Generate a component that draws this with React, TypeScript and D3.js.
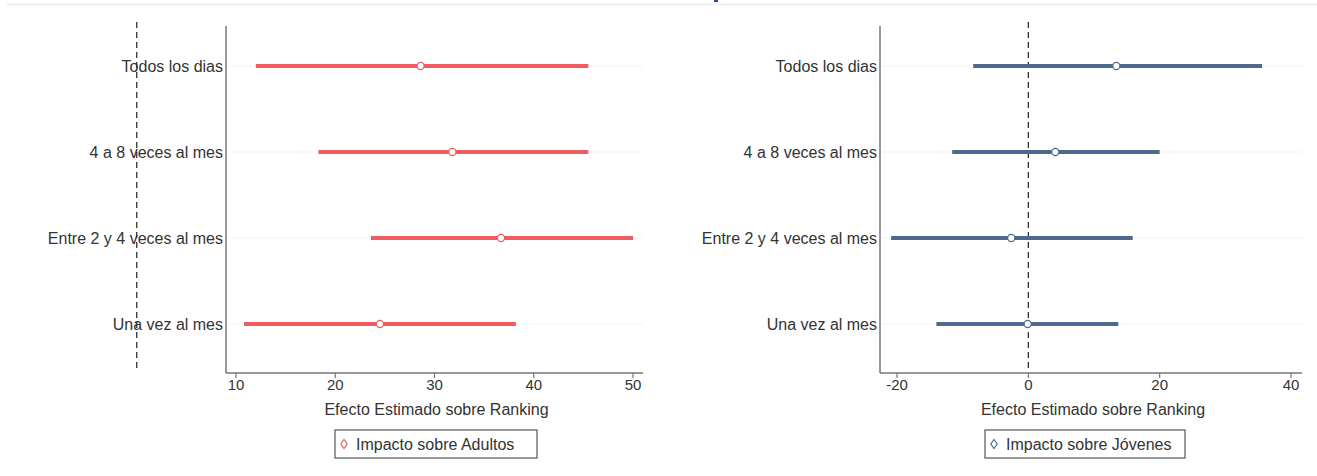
import React from "react";
import * as d3 from "d3";

const categories = ["Todos los dias", "4 a 8 veces al mes", "Entre 2 y 4 veces al mes", "Una vez al mes"];
const adultosPoint = [28.6, 31.8, 36.7, 24.5];
const adultosLow = [12.0, 18.3, 23.6, 10.8];
const adultosHigh = [45.5, 45.5, 50.0, 38.2];
const jovenesPoint = [13.4, 4.1, -2.6, -0.1];
const jovenesLow = [-8.4, -11.6, -20.9, -14.0];
const jovenesHigh = [35.6, 20.0, 15.9, 13.7];
const adultosTicks = [10, 20, 30, 40, 50];
const jovenesTicks = [-20, 0, 20, 40];
const xTitle = "Efecto Estimado sobre Ranking";

const FONT = "'Liberation Sans', Arial, sans-serif";

type PanelProps = {
  axisLeft: number;
  axisRight: number;
  domain: [number, number];
  range: [number, number];
  ticks: number[];
  point: number[];
  low: number[];
  high: number[];
  color: string;
  legendLabel: string;
  legendX: number;
  legendW: number;
};

function Panel(p: PanelProps) {
  const x = d3.scaleLinear().domain(p.domain).range(p.range);
  const y = d3.scalePoint<string>().domain(categories).range([66, 324]);
  const top = 26;
  const bottom = 373;
  const diamond = "M0,-4.5L3.2,0L0,4.5L-3.2,0Z";
  const circle = d3.symbol().type(d3.symbolCircle).size(40)() as string;
  const zx = x(0);
  return (
    <g>
      {categories.map((c) => (
        <line key={"g" + c} x1={p.axisLeft} x2={p.axisRight} y1={y(c)} y2={y(c)} stroke="#f3f3f3" strokeWidth={1} />
      ))}
      <line x1={zx} x2={zx} y1={22} y2={bottom - 2} stroke="#222" strokeWidth={1.2} strokeDasharray="6,4" />
      <line x1={p.axisLeft} x2={p.axisLeft} y1={top} y2={bottom} stroke="#777" strokeWidth={1.5} />
      <line x1={p.axisLeft} x2={p.axisRight} y1={bottom} y2={bottom} stroke="#777" strokeWidth={1.5} />
      {p.ticks.map((t) => (
        <g key={"t" + t}>
          <line x1={x(t)} x2={x(t)} y1={bottom} y2={bottom + 5} stroke="#777" strokeWidth={1.2} />
          <text x={x(t)} y={bottom + 17} textAnchor="middle" fontFamily={FONT} fontSize={15} fill="#333">
            {t}
          </text>
        </g>
      ))}
      <text x={(p.axisLeft + p.axisRight) / 2 + 2} y={bottom + 42} textAnchor="middle" fontFamily={FONT} fontSize={16} fill="#333">
        {xTitle}
      </text>
      {categories.map((c) => (
        <text key={"l" + c} x={p.axisLeft - 3} y={(y(c) as number) + 5.5} textAnchor="end" fontFamily={FONT} fontSize={16} fill="#333">
          {c}
        </text>
      ))}
      {categories.map((c, i) => (
        <g key={"d" + c}>
          <line x1={x(p.low[i])} x2={x(p.high[i])} y1={y(c)} y2={y(c)} stroke={p.color} strokeWidth={4} />
          <path d={circle} transform={`translate(${x(p.point[i])},${y(c)})`} fill="#fff" stroke={p.color} strokeWidth={1.2} />
        </g>
      ))}
      <rect x={p.legendX} y={430} width={p.legendW} height={28} fill="#fff" stroke="#555" strokeWidth={1.2} />
      <path d={diamond} transform={`translate(${p.legendX + 9},444)`} fill="#fff" stroke={p.color} strokeWidth={1.2} />
      <text x={p.legendX + 21} y={449.5} fontFamily={FONT} fontSize={16} fill="#333">
        {p.legendLabel}
      </text>
    </g>
  );
}

export default function App() {
  return (
    <svg width={1317} height={476} style={{ position: "absolute", left: 0, top: 0, background: "#fff" }}>
      <rect x={0} y={0} width={1317} height={476} fill="#fff" />
      <line x1={7} x2={1317} y1={4.5} y2={4.5} stroke="#f0f0f0" strokeWidth={2} />
      <line x1={714} x2={718} y1={1} y2={1} stroke="#2b4c9b" strokeWidth={2} />
      <Panel
        axisLeft={226}
        axisRight={643}
        domain={[10, 50]}
        range={[236, 633]}
        ticks={adultosTicks}
        point={adultosPoint}
        low={adultosLow}
        high={adultosHigh}
        color="#ee5b60"
        legendLabel="Impacto sobre Adultos"
        legendX={335}
        legendW={202}
      />
      <Panel
        axisLeft={880}
        axisRight={1302}
        domain={[-20, 40]}
        range={[897, 1291]}
        ticks={jovenesTicks}
        point={jovenesPoint}
        low={jovenesLow}
        high={jovenesHigh}
        color="#4d6a8c"
        legendLabel="Impacto sobre Jóvenes"
        legendX={985}
        legendW={200}
      />
    </svg>
  );
}
